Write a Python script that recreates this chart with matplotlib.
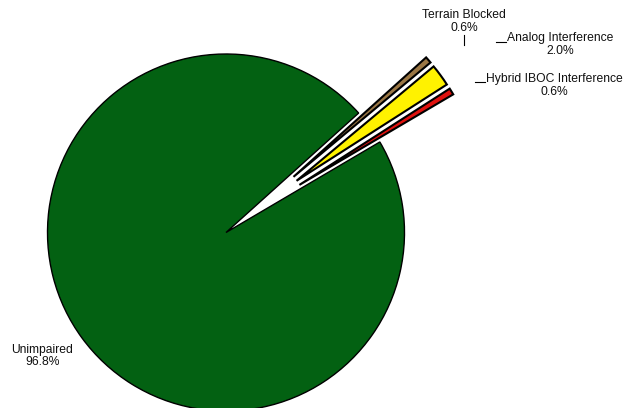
import numpy as np
import matplotlib.pyplot as plt

# slice data, clockwise from the top of the gap
labels = ['Terrain Blocked', 'Analog Interference', 'Hybrid IBOC Interference', 'Unimpaired']
shares = [0.6, 2.0, 0.6, 96.8]
colors = ['#9B7745', '#FFF200', '#E0120F', '#036112']
explode = [0.49, 0.49, 0.49, 0.0]

# label spots in pixel coords of the 626x408 picture
label_px = [(464, 21.5), (560, 44.5), (554.5, 85.5), (42.5, 356)]
cx, cy, r = 226, 232.5, 178.5
start = 42.0

plt.rcParams['font.family'] = ['Liberation Sans', 'DejaVu Sans']

fig = plt.figure(figsize=(6.26, 4.08), dpi=100)
ax = fig.add_axes([0, 0, 1, 1])

wedges, _ = ax.pie(shares, colors=colors, explode=explode, startangle=start,
                   counterclock=False,
                   wedgeprops=dict(edgecolor='black', linewidth=1.0))

# pull the exploded slivers a bit closer together, like the original
small = [i for i, e in enumerate(explode) if e > 0]
mids = [(w.theta1 + w.theta2) / 2 for w in wedges]
group_mid = np.mean([mids[i] for i in small])
for i in small:
    ang = np.deg2rad(group_mid + 0.7 * (mids[i] - group_mid))
    wedges[i].set_center((explode[i] * np.cos(ang), explode[i] * np.sin(ang)))
    wedges[i].set_linewidth(1.5)

def px2data(px, py):
    return (px - cx) / r, (cy - py) / r

for name, val, (px, py) in zip(labels, shares, label_px):
    x, y = px2data(px, py)
    ax.text(x, y, f'{name}\n{val:.1f}%', ha='center', va='center',
            fontsize=8.7, linespacing=1.02, color='#111111')

# little leader marks next to the labels
leaders = [((464, 35), (464, 44.5)), ((496, 42), (506, 42)), ((475, 82), (485, 82))]
for p0, p1 in leaders:
    x0, y0 = px2data(*p0)
    x1, y1 = px2data(*p1)
    ax.plot([x0, x1], [y0, y1], color='black', linewidth=0.8)

ax.set_aspect('auto')
ax.set_xlim(-cx / r, (626 - cx) / r)
ax.set_ylim(-(408 - cy) / r, cy / r)
ax.axis('off')

fig.savefig('out.png', dpi=100)
